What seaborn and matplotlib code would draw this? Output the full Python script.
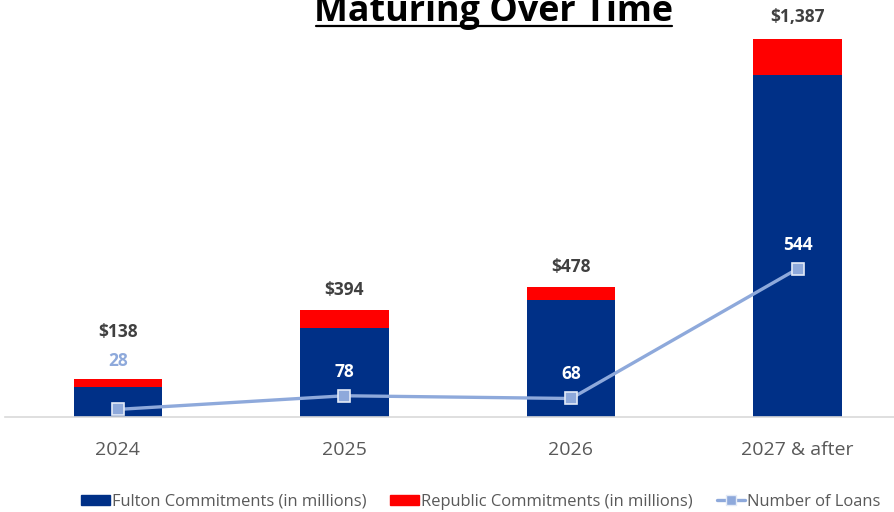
import matplotlib
matplotlib.use("Agg")
import matplotlib.pyplot as plt
import seaborn as sns
import numpy as np
import pandas as pd
from matplotlib.patches import Patch
from matplotlib.lines import Line2D

categories = ["2024", "2025", "2026", "2027 & after"]
fulton = [112, 328, 430, 1255]
republic = [26, 66, 48, 132]
totals = [138, 394, 478, 1387]
total_labels = ["$138", "$394", "$478", "$1,387"]
loans = [28, 78, 68, 544]
loan_label_colors = ["#8EA9DB", "white", "white", "white"]

BLUE = "#003087"
RED = "#FF0000"
LINE = "#8EA9DB"
GREY = "#595959"

sns.set_theme(style="white")
plt.rcParams["font.family"] = ["Open Sans", "DejaVu Sans"]

fig = plt.figure(figsize=(8.95, 5.12), dpi=100)
ax = fig.add_axes([0.0051, 0.1855, 0.9949, 0.7984])

stack_top = [f + r for f, r in zip(fulton, republic)]
df = pd.DataFrame({"cat": categories, "top": stack_top, "fulton": fulton, "loans": loans})

sns.barplot(data=df, x="cat", y="top", color=RED, width=0.39, ax=ax, saturation=1, linewidth=0)
sns.barplot(data=df, x="cat", y="fulton", color=BLUE, width=0.39, ax=ax, saturation=1, linewidth=0)
sns.pointplot(data=df, x="cat", y="loans", color=LINE, markers="s", ax=ax,
              markersize=9, linewidth=2.4, markeredgecolor="#E4EBF7", markeredgewidth=1.2)

ax.set_xlim(-0.5, 3.43)
ax.set_ylim(0, 1500)
ax.set_xlabel("")
ax.set_ylabel("")
ax.set_yticks([])
for s in ["top", "left", "right"]:
    ax.spines[s].set_visible(False)
ax.spines["bottom"].set_color("#D9D9D9")
ax.spines["bottom"].set_linewidth(1.2)
ax.tick_params(axis="x", length=0, labelsize=14, labelcolor=GREY, pad=17)

# total labels (offsets in pixels above stack top, to text centre)
tot_off = [47, 20, 20, 22]
for i, (t, lab) in enumerate(zip(totals, total_labels)):
    ax.annotate(lab, (i, t), xytext=(0, tot_off[i]), textcoords="offset pixels",
                ha="center", va="center", fontsize=12.5, fontweight="bold", color="#404040")
loan_off = [48, 24, 24, 24]
for i, (n, c) in enumerate(zip(loans, loan_label_colors)):
    ax.annotate(str(n), (i, n), xytext=(0, loan_off[i]), textcoords="offset pixels",
                ha="center", va="center", fontsize=12.5, fontweight="bold", color=c)

# title
fig.text(494/895, 1 - 21/512, "Maturing Over Time", ha="center", va="baseline",
         fontsize=25.8, fontweight="bold", color="black")
fig.add_artist(Line2D([316/895, 672/895], [1-25.5/512, 1-25.5/512], color="black", lw=1.6))

handles = [Patch(color=BLUE), Patch(color=RED),
           Line2D([0], [0], color=LINE, lw=2.4, marker="s", markersize=7,
                  markerfacecolor=LINE, markeredgecolor="#E4EBF7")]
labels = ["Fulton Commitments (in millions)", "Republic Commitments (in millions)", "Number of Loans"]
leg = fig.legend(handles, labels, loc="center", bbox_to_anchor=(481/895, 1-502/512), ncol=3,
                 frameon=False, fontsize=11.9, handlelength=1.7, handleheight=0.6,
                 handletextpad=0.15, columnspacing=1.45, labelcolor=GREY,
                 borderpad=0, borderaxespad=0)

fig.savefig("out.png", dpi=100)
